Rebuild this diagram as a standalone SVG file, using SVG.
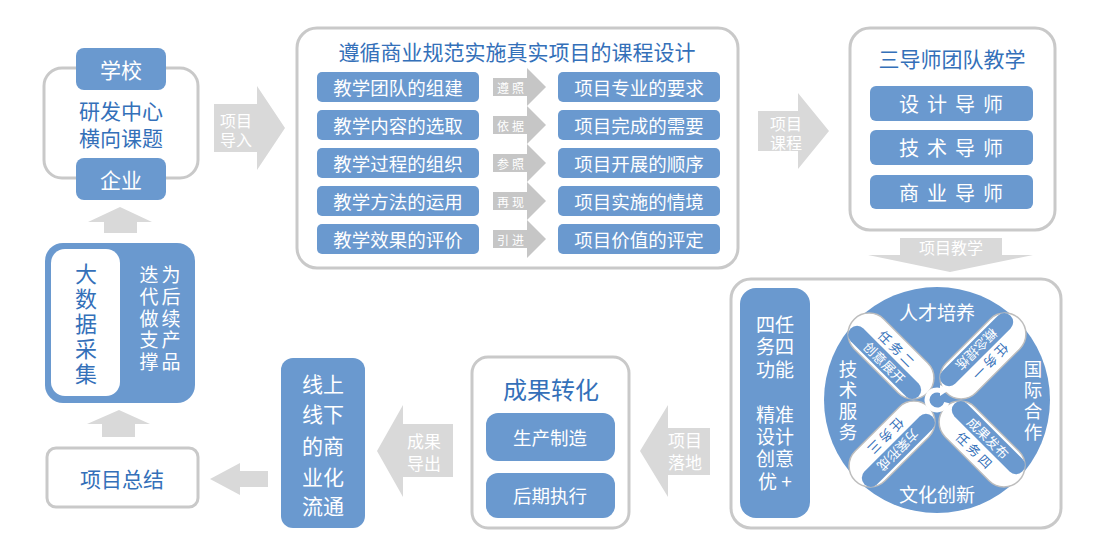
<svg xmlns="http://www.w3.org/2000/svg" width="1105" height="559" viewBox="0 0 1105 559">
<style>
text,tspan{font-family:"Noto Sans CJK SC","Noto Sans",sans-serif;text-anchor:middle;dominant-baseline:central}
text.v{writing-mode:vertical-rl;text-anchor:start}
.box{fill:#fff;stroke:#C9C9C9;stroke-width:3}
.btn{fill:#6A99CF}
.w{fill:#fff}
.b{fill:#3470B9}
.arr{fill:#D9D9D9}
.sarr{fill:#C6C6C6}
.pill{fill:#fff;stroke:#BDBDBD;stroke-width:1.5}
</style>
<rect width="1105" height="559" fill="#fff"/>

<g id="node-school">
  <rect class="box" x="44" y="68" width="154" height="110" rx="18"/>
  <rect class="btn" x="76" y="48" width="90" height="42" rx="8"/>
  <rect class="btn" x="76" y="158" width="90" height="42" rx="8"/>
  <text class="w" x="121" y="69" font-size="21">学校</text>
  <text class="b" font-size="21"><tspan x="121" y="110">研发中心</tspan><tspan x="121" y="137">横向课题</tspan></text>
  <text class="w" x="121" y="179" font-size="21">企业</text>
</g>

<g id="node-bigdata">
  <rect class="btn" x="45" y="243" width="150" height="160" rx="18"/>
  <rect fill="#fff" x="51" y="249" width="69" height="147" rx="14"/>
  <text class="b v" x="86" y="263" font-size="22" letter-spacing="3">大数据采集</text>
  <text class="w v" x="149" y="265.5" font-size="19" letter-spacing="2.75">迭代做支撑</text>
  <text class="w v" x="171" y="265.5" font-size="19" letter-spacing="2.75">为后续产品</text>
</g>

<g id="node-summary">
  <rect class="box" x="47" y="448" width="151" height="59" rx="9"/>
  <text class="b" x="122" y="478" font-size="21">项目总结</text>
</g>

<g id="node-course">
  <rect class="box" x="297" y="28" width="441" height="240" rx="20"/>
  <text class="b" x="517" y="51" font-size="21">遵循商业规范实施真实项目的课程设计</text>
  <g class="btn">
    <rect x="317" y="72" width="162" height="30" rx="5"/>
    <rect x="317" y="110" width="162" height="30" rx="5"/>
    <rect x="317" y="148" width="162" height="30" rx="5"/>
    <rect x="317" y="186" width="162" height="30" rx="5"/>
    <rect x="317" y="224" width="162" height="30" rx="5"/>
    <rect x="558" y="72" width="162" height="30" rx="5"/>
    <rect x="558" y="110" width="162" height="30" rx="5"/>
    <rect x="558" y="148" width="162" height="30" rx="5"/>
    <rect x="558" y="186" width="162" height="30" rx="5"/>
    <rect x="558" y="224" width="162" height="30" rx="5"/>
  </g>
  <g class="w" font-size="18.5">
    <text x="398" y="87">教学团队的组建</text>
    <text x="398" y="125">教学内容的选取</text>
    <text x="398" y="163">教学过程的组织</text>
    <text x="398" y="201">教学方法的运用</text>
    <text x="398" y="239">教学效果的评价</text>
    <text x="639" y="87">项目专业的要求</text>
    <text x="639" y="125">项目完成的需要</text>
    <text x="639" y="163">项目开展的顺序</text>
    <text x="639" y="201">项目实施的情境</text>
    <text x="639" y="239">项目价值的评定</text>
  </g>
</g>

<g id="node-mentors">
  <rect class="box" x="850" y="28" width="205" height="202" rx="20"/>
  <text class="b" x="952" y="58" font-size="21">三导师团队教学</text>
  <rect class="btn" x="870" y="86" width="163" height="35" rx="6"/>
  <rect class="btn" x="870" y="130" width="163" height="35" rx="6"/>
  <rect class="btn" x="870" y="175" width="163" height="34" rx="6"/>
  <g class="w" font-size="20" letter-spacing="8">
    <text x="955" y="103">设计导师</text>
    <text x="955" y="147">技术导师</text>
    <text x="955" y="192">商业导师</text>
  </g>
</g>

<g id="node-teaching">
  <rect class="box" x="731" y="279" width="330" height="249" rx="20"/>
  <rect class="btn" x="740" y="288" width="70" height="230" rx="16"/>
  <text class="w" font-size="19"><tspan x="775" y="323">四任</tspan><tspan x="775" y="345">务四</tspan><tspan x="775" y="368">功能</tspan><tspan x="775" y="413">精准</tspan><tspan x="775" y="435">设计</tspan><tspan x="775" y="457">创意</tspan><tspan x="775" y="480">优 +</tspan></text>
  <circle class="btn" cx="937" cy="400" r="113"/>
  <text class="w" x="937" y="311" font-size="19">人才培养</text>
  <text class="w" x="937" y="493" font-size="19">文化创新</text>
  <text class="w v" x="848" y="359.75" font-size="18.5" letter-spacing="2.5">技术服务</text>
  <text class="w v" x="1033" y="359.75" font-size="18.5" letter-spacing="2.5">国际合作</text>
  <g id="task2" transform="translate(891,356) rotate(45)">
    <rect class="pill" x="-52" y="-21" width="104" height="42" rx="21"/>
    <rect class="btn" x="-48" y="0" width="96" height="18" rx="9"/>
    <text class="b" x="0" y="-9.5" font-size="13" letter-spacing="3">任务二</text>
    <text class="w" x="0" y="9" font-size="13">创意展开</text>
  </g>
  <g id="task1" transform="translate(983,356) rotate(135)">
    <rect class="pill" x="-52" y="-21" width="104" height="42" rx="21"/>
    <rect class="btn" x="-48" y="0" width="96" height="18" rx="9"/>
    <text class="b" x="0" y="-9.5" font-size="13" letter-spacing="3">任务一</text>
    <text class="w" x="0" y="9" font-size="13">概念提炼</text>
  </g>
  <g id="task4" transform="translate(982,444) rotate(45)">
    <rect class="pill" x="-52" y="-21" width="104" height="42" rx="21"/>
    <rect class="btn" x="-48" y="-18" width="96" height="18" rx="9"/>
    <text class="w" x="0" y="-9" font-size="13">成果发布</text>
    <text class="b" x="0" y="9.5" font-size="13" letter-spacing="3">任务四</text>
  </g>
  <g id="task3" transform="translate(892,444) rotate(135)">
    <rect class="pill" x="-52" y="-21" width="104" height="42" rx="21"/>
    <rect class="btn" x="-48" y="-18" width="96" height="18" rx="9"/>
    <text class="w" x="0" y="-9" font-size="13">方案形成</text>
    <text class="b" x="0" y="9.5" font-size="13" letter-spacing="3">任务三</text>
  </g>
  <path d="M942,391.3 A10,10 0 1 0 946.7,402.6" fill="none" stroke="#fff" stroke-width="5"/>
  <polygon points="940,385 949,390 940,396" fill="#fff"/>
</g>

<g id="node-result">
  <rect class="box" x="472" y="357" width="157" height="171" rx="16"/>
  <text class="b" x="551" y="388" font-size="24">成果转化</text>
  <rect class="btn" x="486" y="413" width="129" height="48" rx="12"/>
  <rect class="btn" x="486" y="473" width="129" height="45" rx="12"/>
  <text class="w" x="550" y="437" font-size="18.5">生产制造</text>
  <text class="w" x="550" y="495" font-size="18.5">后期执行</text>
</g>

<g id="node-online">
  <rect class="btn" x="281" y="358" width="84" height="170" rx="12"/>
  <text class="w" font-size="21"><tspan x="323" y="383">线上</tspan><tspan x="323" y="413">线下</tspan><tspan x="323" y="445">的商</tspan><tspan x="323" y="476">业化</tspan><tspan x="323" y="505">流通</tspan></text>
</g>

<g id="connectors">
  <polygon class="arr" points="214,104 257,104 257,86 285,128 257,170 257,152 214,152"/>
  <text class="w" font-size="16"><tspan x="236" y="120">项目</tspan><tspan x="236" y="139">导入</tspan></text>

  <polygon class="arr" points="758,111 798,111 798,93 829,131 798,169 798,151 758,151"/>
  <text class="w" font-size="16"><tspan x="786" y="123">项目</tspan><tspan x="786" y="142">课程</tspan></text>

  <polygon class="arr" points="900,238 1002,238 1002,255 1033,255 950,272 868,255 900,255"/>
  <text class="w" x="951" y="247" font-size="16">项目教学</text>

  <polygon class="arr" points="710,428 668,428 668,405 640,451 668,497 668,475 710,475"/>
  <text class="w" font-size="17"><tspan x="685" y="439">项目</tspan><tspan x="685" y="461">落地</tspan></text>

  <polygon class="arr" points="453,424 403,424 403,405 377,451 403,497 403,477 453,477"/>
  <text class="w" font-size="17"><tspan x="424" y="440">成果</tspan><tspan x="424" y="462">导出</tspan></text>

  <polygon class="arr" points="268,471 240,471 240,463 210,479 240,495 240,487 268,487"/>

  <polygon class="arr" points="104,233 104,222 88,222 120,207 152,222 137,222 137,233"/>
  <polygon class="arr" points="102,437 102,424 87,424 119,410 150,424 135,424 135,437"/>

  <g id="small-arrows">
    <polygon class="sarr" points="493,78 527,78 527,68 546,87 527,106 527,96 493,96"/>
    <text class="w" x="512" y="87" font-size="12" letter-spacing="3">遵照</text>
    <polygon class="sarr" points="493,116 527,116 527,106 546,125 527,144 527,134 493,134"/>
    <text class="w" x="512" y="125" font-size="12" letter-spacing="3">依据</text>
    <polygon class="sarr" points="493,154 527,154 527,144 546,163 527,182 527,172 493,172"/>
    <text class="w" x="512" y="163" font-size="12" letter-spacing="3">参照</text>
    <polygon class="sarr" points="493,192 527,192 527,182 546,201 527,220 527,210 493,210"/>
    <text class="w" x="512" y="201" font-size="12" letter-spacing="3">再现</text>
    <polygon class="sarr" points="493,230 527,230 527,220 546,239 527,258 527,248 493,248"/>
    <text class="w" x="512" y="239" font-size="12" letter-spacing="3">引进</text>
  </g>
</g>
</svg>
